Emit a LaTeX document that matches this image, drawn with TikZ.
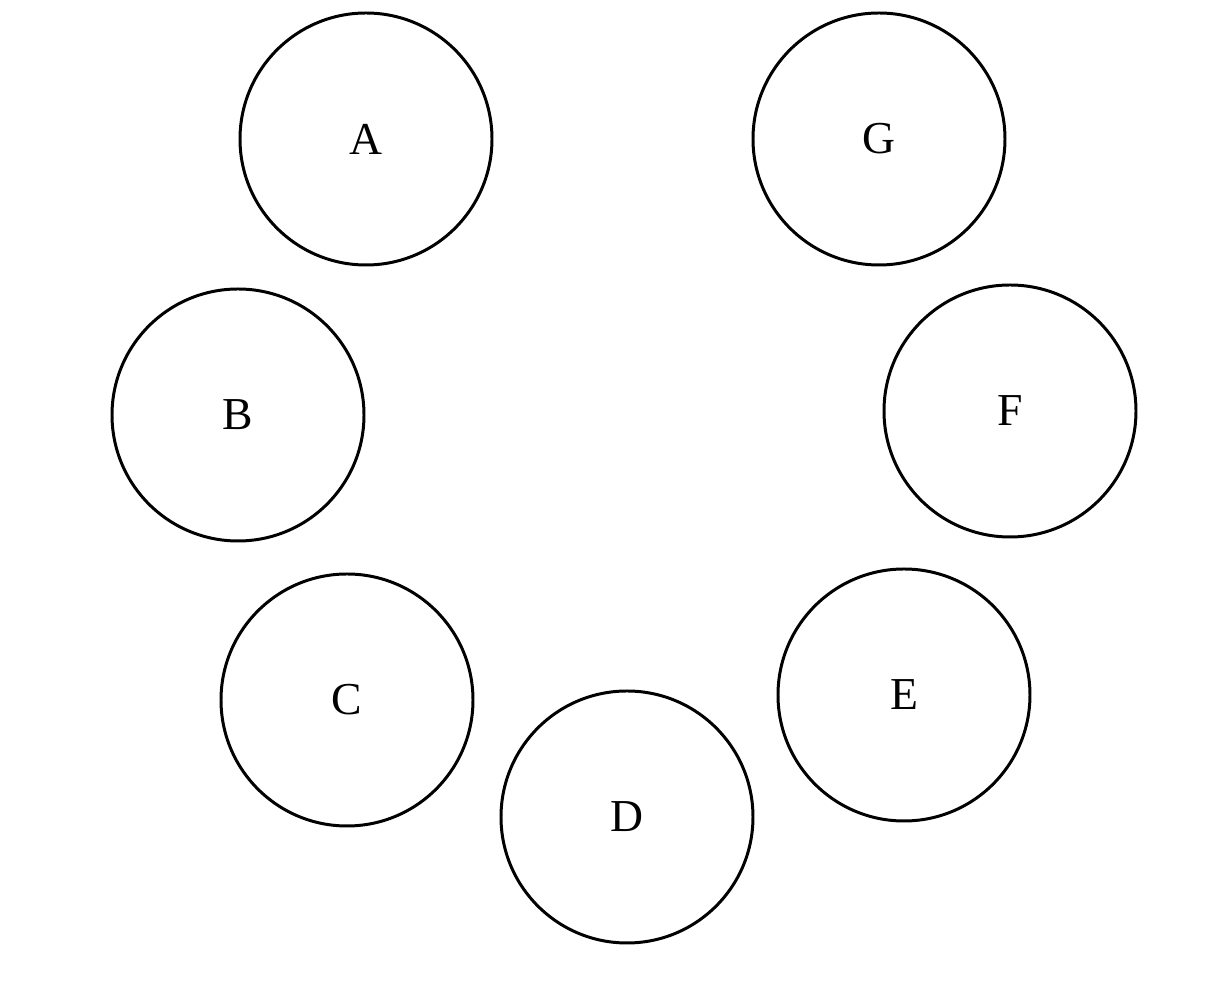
\documentclass[tikz,border=0pt]{standalone}
\usepackage{fontspec}
\setmainfont{Liberation Serif}
\usepackage{tikz}
\usetikzlibrary{positioning}

\begin{document}
\begin{tikzpicture}[
    seat/.style={draw, circle, line width=0.85pt, minimum size=2.52cm,
                 inner sep=0pt, font=\fontsize{13}{15}\selectfont}
  ]
    % Page frame
    \useasboundingbox (0,0) rectangle (12.2,9.84);
    % Top pair
    \node[seat] (a) at (3.66,8.45) {A};
    \node[seat] (g) at (8.79,8.45) {G};
    % Middle pair
    \node[seat] (b) at (2.38,5.69) {B};
    \node[seat] (f) at (10.10,5.73) {F};
    % Lower ring
    \node[seat] (c) at (3.47,2.84) {C};
    \node[seat] (e) at (9.04,2.89) {E};
    \node[seat] (d) at (6.27,1.67) {D};
  \end{tikzpicture}
\end{document}
